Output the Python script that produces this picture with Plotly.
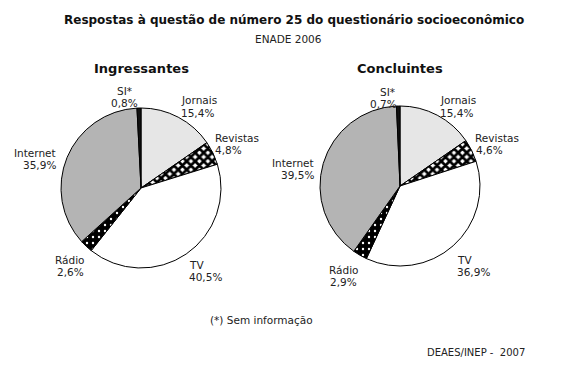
import plotly.graph_objects as go

categories = ["Jornais", "Revistas", "TV", "Rádio", "Internet", "SI*"]
ingressantes = [15.4, 4.8, 40.5, 2.6, 35.9, 0.8]
concluintes = [15.4, 4.6, 36.9, 2.9, 39.5, 0.7]
ing_text = ["15,4%", "4,8%", "40,5%", "2,6%", "35,9%", "0,8%"]
con_text = ["15,4%", "4,6%", "36,9%", "2,9%", "39,5%", "0,7%"]

W, H = 576, 376
colors = ["#e6e6e6", "#000000", "#ffffff", "#000000", "#b4b4b4", "#111111"]
shapes = ["", "x", "", ".", "", ""]
fg = ["#000000", "#000000", "#000000", "#ffffff", "#000000", "#000000"]
bg = ["#e6e6e6", "#ffffff", "#ffffff", "#000000", "#b4b4b4", "#111111"]
sol = [0.3, 0.7, 0.3, 0.12, 0.3, 0.3]

def px(x0, x1, y0, y1):
    return dict(x=[x0 / W, x1 / W], y=[1 - y1 / H, 1 - y0 / H])

def pie(vals, dom):
    return go.Pie(
        labels=categories, values=vals, sort=False, direction="clockwise",
        rotation=0, textinfo="none", hoverinfo="label+value",
        marker=dict(colors=colors, line=dict(color="#000000", width=1),
                    pattern=dict(shape=shapes, fgcolor=fg, bgcolor=bg,
                                 size=6, solidity=sol, fillmode="replace")),
        domain=dom, showlegend=False)

fig = go.Figure()
fig.add_trace(pie(ingressantes, px(61, 221, 108, 268)))
fig.add_trace(pie(concluintes, px(320, 480, 106, 266)))

FONT = "DejaVu Sans"
ann = []
def t(x, y, s, anchor="left", size=10.5, bold=False, color="#222"):
    ann.append(dict(x=x / W, y=1 - y / H, xref="paper", yref="paper", text=(f"<b>{s}</b>" if bold else s),
                    showarrow=False, xanchor=anchor, yanchor="middle",
                    font=dict(family=FONT, size=size, color=color), align=anchor))

t(294, 20, "Respostas à questão de número 25 do questionário socioeconômico", "center", 12, True, "#111")
t(288, 39, "ENADE 2006", "center", 10.5)
t(141, 68, "Ingressantes", "center", 13, True, "#111")
t(400, 68, "Concluintes", "center", 13, True, "#111")

# Ingressantes labels
t(124, 91, categories[5], "center"); t(124, 103, ing_text[5], "center")
t(179, 100, categories[0]); t(179, 113, ing_text[0])
t(213, 138, categories[1]); t(213, 150, ing_text[1])
t(58, 153, categories[4], "right"); t(58, 165, ing_text[4], "right")
t(53, 260, categories[3]); t(55, 272, ing_text[3])
t(187, 265, categories[2]); t(187, 277, ing_text[2])

# Concluintes labels
t(387, 92, categories[5], "center"); t(383, 104, con_text[5], "center")
t(438, 100, categories[0]); t(438, 113, con_text[0])
t(473, 138, categories[1]); t(474, 150, con_text[1])
t(316, 163, categories[4], "right"); t(316, 175, con_text[4], "right")
t(327, 270, categories[3]); t(328, 282, con_text[3])
t(455, 260, categories[2]); t(455, 272, con_text[2])

t(208, 320, "(*) Sem informação", "left", 10.5)
t(425, 352, "DEAES/INEP -  2007", "left", 10)

fig.update_layout(width=W, height=H, margin=dict(l=0, r=0, t=0, b=0),
                  paper_bgcolor="white", plot_bgcolor="white", annotations=ann)
fig.write_html("out.html", config={"displayModeBar": False})

with open("out.html", encoding="utf-8") as f:
    html = f.read()
html = html.replace("<body>", '<body style="margin:0;padding:0;overflow:hidden">', 1)
with open("out.html", "w", encoding="utf-8") as f:
    f.write(html)
